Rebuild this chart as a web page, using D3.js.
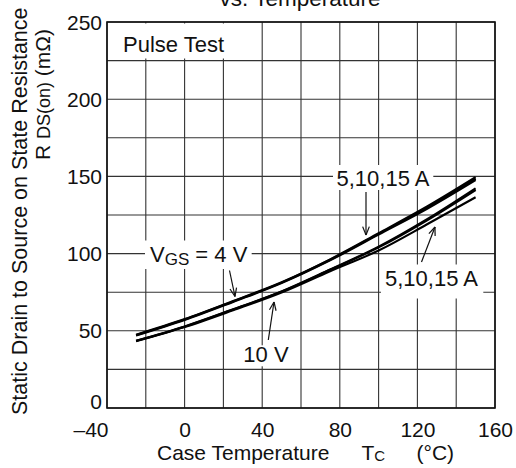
<!DOCTYPE html>
<html>
<head>
<meta charset="utf-8">
<script src="https://cdn.jsdelivr.net/npm/d3@7"></script>
<style>
  html, body { margin: 0; padding: 0; background: #fff; }
  svg { display: block; }
  text { font-family: "Liberation Sans", Arial, Helvetica, sans-serif; fill: #111; }
</style>
</head>
<body>
<svg id="chart" width="516" height="468"></svg>
<script>
// ---- data ----
const xTicks = [-40, 0, 40, 80, 120, 160];
const xTickLabels = ["\u201340", "0", "40", "80", "120", "160"];
const yTicks = [0, 50, 100, 150, 200, 250];
const xGrid = [-40, -20, 0, 20, 40, 60, 80, 100, 120, 140, 160];
const yGrid = [0, 25, 50, 75, 100, 125, 150, 175, 200, 225, 250];

const temps = [-25, 0, 25, 50, 75, 100, 125, 150];
const r4V_5A   = [47.5, 57.6, 69.3, 81.5, 96.3, 113.2, 130.5, 149.5];
const r4V_10A  = [47.2, 57.3, 69.0, 81.2, 96.0, 112.8, 129.8, 148.5];
const r4V_15A  = [46.9, 57.0, 68.7, 80.9, 95.6, 112.3, 129.0, 147.6];
const r10V_5A  = [43.6, 52.8, 63.9, 75.5, 89.7, 104.5, 122.3, 142.3];
const r10V_10A = [43.5, 52.7, 63.8, 75.4, 89.5, 104.0, 121.6, 141.2];
const r10V_15A = [43.2, 52.4, 63.3, 74.8, 88.6, 102.0, 119.0, 136.5];
const seriesList = [r4V_5A, r4V_10A, r4V_15A, r10V_5A, r10V_10A, r10V_15A];

// ---- layout ----
const svg = d3.select("#chart");
const x = d3.scaleLinear().domain([-40, 160]).range([107, 495]);
const y = d3.scaleLinear().domain([0, 250]).range([408, 22]);

// grid
const g = svg.append("g");
g.selectAll("line.vg").data(xGrid).join("line")
  .attr("x1", d => x(d)).attr("x2", d => x(d))
  .attr("y1", y(0)).attr("y2", y(250))
  .attr("stroke", "#333").attr("stroke-width", 1.1);
g.selectAll("line.hg").data(yGrid).join("line")
  .attr("x1", x(-40)).attr("x2", x(160))
  .attr("y1", d => y(d)).attr("y2", d => y(d))
  .attr("stroke", "#333").attr("stroke-width", 1.1);

// frame
svg.append("rect")
  .attr("x", x(-40)).attr("y", y(250))
  .attr("width", x(160) - x(-40)).attr("height", y(0) - y(250))
  .attr("fill", "none").attr("stroke", "#111").attr("stroke-width", 1.6);

// axes labels via d3 axes (no domain / tick lines)
const yAxis = svg.append("g").attr("transform", `translate(${x(-40) - 5},0)`)
  .call(d3.axisLeft(y).tickValues(yTicks).tickSize(0).tickPadding(0));
yAxis.select(".domain").remove();
yAxis.selectAll("text").attr("font-size", 21).attr("fill", "#111")
  .attr("font-family", '"Liberation Sans", Arial, sans-serif')
  .attr("dy", d => d === 0 ? "-0.0em" : "0.34em");

const xAxis = svg.append("g").attr("transform", `translate(0,${y(0)})`)
  .call(d3.axisBottom(x).tickValues(xTicks).tickSize(0).tickPadding(0)
    .tickFormat((d, i) => xTickLabels[i]));
xAxis.select(".domain").remove();
xAxis.selectAll("text").attr("font-size", 21).attr("fill", "#111")
  .attr("font-family", '"Liberation Sans", Arial, sans-serif')
  .attr("dy", 0).attr("y", 28.5)
  .attr("text-anchor", d => d === -40 ? "end" : "middle")
  .attr("dx", d => d === -40 ? 1 : 0);

// annotation helpers
function labelBox(textSel, pad) {
  const b = textSel.node().getBBox();
  const [l, r, t, bt] = pad;
  svg.insert("rect", () => textSel.node())
    .attr("x", b.x - l).attr("y", b.y - t)
    .attr("width", b.width + l + r).attr("height", b.height + t + bt)
    .attr("fill", "#fff");
}
function arrow(x1, y1, x2, y2) {
  const ang = Math.atan2(y2 - y1, x2 - x1);
  const len = 9, spread = 0.38;
  svg.append("line").attr("x1", x1).attr("y1", y1).attr("x2", x2).attr("y2", y2)
    .attr("stroke", "#111").attr("stroke-width", 1.2);
  [ang + Math.PI - spread, ang + Math.PI + spread].forEach(a => {
    svg.append("line").attr("x1", x2).attr("y1", y2)
      .attr("x2", x2 + len * Math.cos(a)).attr("y2", y2 + len * Math.sin(a))
      .attr("stroke", "#111").attr("stroke-width", 1.2);
  });
}

const labels = svg.append("g");

// Pulse Test
const pt = svg.append("text").attr("x", 123).attr("y", 51.5).attr("font-size", 22).text("Pulse Test");
labelBox(pt, [14, 22, 8, 2]);

// curves
const line = d3.line().x((d, i) => x(temps[i])).y(d => y(d)).curve(d3.curveMonotoneX);
svg.append("g").selectAll("path").data(seriesList).join("path")
  .attr("d", d => line(d))
  .attr("fill", "none").attr("stroke", "#000").attr("stroke-width", 2.1)
  .attr("stroke-linecap", "butt");

// upper 5,10,15 A
const a1 = svg.append("text").attr("x", 336.5).attr("y", 186).attr("font-size", 22).text("5,10,15 A");
labelBox(a1, [3.5, 3.5, 1, -1]);
arrow(366, 192, 366, 235);

// lower 5,10,15 A
const a2 = svg.append("text").attr("x", 385).attr("y", 285.5).attr("font-size", 22).text("5,10,15 A");
labelBox(a2, [4, 5, 1, 8]);
arrow(421.5, 262, 435, 227);

// VGS = 4 V
const vg = svg.append("text").attr("x", 150).attr("y", 261.5).attr("font-size", 22);
vg.append("tspan").text("V");
vg.append("tspan").attr("font-size", 17).attr("dy", 3.5).text("GS");
vg.append("tspan").attr("dy", -3.5).text(" = 4 V");
labelBox(vg, [5, 4, 1, 0]);
arrow(229.5, 270.5, 235, 296.5);

// 10 V
const tv = svg.append("text").attr("x", 243.3).attr("y", 362.3).attr("font-size", 22).text("10 V");
labelBox(tv, [3, 3, -3, -1]);
arrow(268.3, 340, 274, 302);

// title (cropped)
svg.append("text").attr("x", 300).attr("y", 6).attr("text-anchor", "middle")
  .attr("font-size", 22.5).text("vs. Temperature");

// x axis title
const xt = svg.append("text").attr("y", 460).attr("font-size", 21);
xt.append("tspan").attr("x", 157).text("Case Temperature");
xt.append("tspan").attr("x", 361.5).text("T");
xt.append("tspan").attr("font-size", 15).attr("dy", 1).text("C");
xt.append("tspan").attr("x", 416.5).attr("dy", -1).text("(°C)");

// y axis title
svg.append("text").attr("transform", "translate(26.7,415) rotate(-90)")
  .attr("font-size", 21.5).text("Static Drain to Source on State Resistance");
const yt2 = svg.append("text").attr("transform", "translate(50,160) rotate(-90)").attr("font-size", 21);
yt2.append("tspan").text("R ");
yt2.append("tspan").attr("font-size", 18).text("DS(on)");
yt2.append("tspan").text("  (m\u03A9)");
</script>
</body>
</html>
